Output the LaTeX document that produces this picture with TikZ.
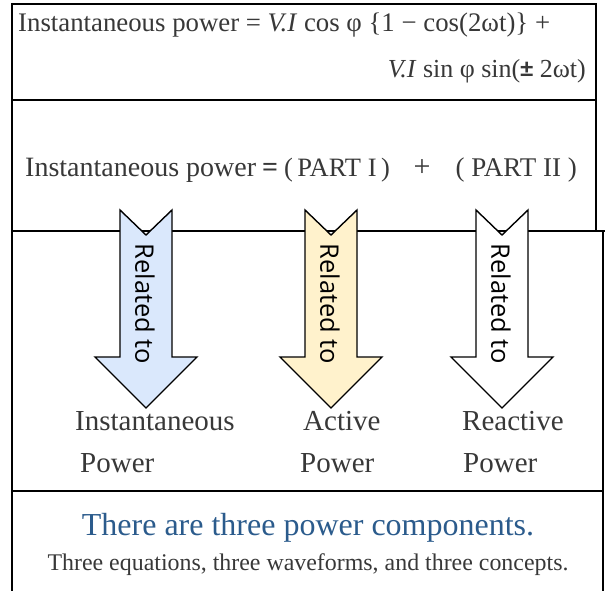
\documentclass[tikz,border=0pt]{standalone}
\usepackage{fontspec}
\setmainfont{Liberation Serif}
\newfontfamily\arrowfont{Open Sans}
\newfontfamily\symfont{Carlito}

\definecolor{inktext}{HTML}{383838}
\definecolor{titleblue}{HTML}{2B5B8C}
\definecolor{fillblue}{HTML}{DAE8FC}
\definecolor{fillyellow}{HTML}{FFF2CC}

% block arrow pointing down, with a notched tail; #1 = centre x, #2 = fill
\newcommand\powerarrow[2]{%
  \draw[arrowline,fill=#2] ({#1-26},210) -- (#1,235) -- ({#1+26},210)
    -- ({#1+26},357) -- ({#1+51},357) -- (#1,408) -- ({#1-51},357)
    -- ({#1-26},357) -- cycle;}

\begin{document}
\begin{tikzpicture}[x=1pt,y=-1pt,
  frame/.style={line width=2pt,black},
  arrowline/.style={line width=1.4pt,black,line join=miter},
  txt/.style={inner sep=0pt,text=inktext,font=\fontsize{26}{30}\selectfont},
  midtxt/.style={inner sep=0pt,text=inktext,font=\fontsize{28}{32}\selectfont},
  lbl/.style={inner sep=0pt,text=inktext,font=\fontsize{29}{33}\selectfont},
  reltxt/.style={inner sep=0pt,text=black,rotate=-90,font=\arrowfont\fontsize{25.5}{29}\selectfont},
]
\useasboundingbox (0,0) rectangle (605,591);

% frame and section rules
\draw[frame] (12,4) -- (596,4) -- (596,231);
\draw[frame] (12,3) -- (12,591);
\draw[frame] (12,100) -- (596,100);
\draw[frame] (12,231) -- (605,231);
\draw[frame] (603,231) -- (603,591);
\draw[frame] (12,491) -- (603,491);

% formula
\node[txt,anchor=base west,font=\fontsize{26.8}{30}\selectfont] (eq1) at (18,32)
  {Instantaneous power = \textit{V.I} cos φ \{1 − cos(2ωt)\} +};
\node[txt,anchor=base east] (eq2) at (586,78)
  {\textit{V.I} sin φ sin({\symfont\bfseries ±} 2ωt)};

% split into two parts
\node[midtxt,anchor=base west] (lhs) at (25,176) {Instantaneous power};
\node[midtxt,anchor=base west] (eqsign) at (262,176) {\bfseries =};
\node[midtxt,anchor=base west,font=\fontsize{26.5}{30}\selectfont] (part1) at (284,176) {(\,PART I\,)};
\node[midtxt,anchor=base] (plus) at (422,176) {\fontsize{30}{34}\selectfont +};
\node[midtxt,anchor=base east,font=\fontsize{27}{31}\selectfont] (part2) at (577,176) {( PART II )};

% arrows
\powerarrow{146}{fillblue}
\powerarrow{331}{fillyellow}
\powerarrow{502}{white}
\node[reltxt] (rel1) at (145,304) {Related to};
\node[reltxt] (rel2) at (330,304) {Related to};
\node[reltxt] (rel3) at (501,304) {Related to};

% component names
\node[lbl,anchor=base west] (inst1) at (75,430) {Instantaneous};
\node[lbl,anchor=base west] (inst2) at (80,472) {Power};
\node[lbl,anchor=base west] (act1) at (303,430) {Active};
\node[lbl,anchor=base west] (act2) at (300,472) {Power};
\node[lbl,anchor=base west] (rea1) at (462,430) {Reactive};
\node[lbl,anchor=base west] (rea2) at (463,472) {Power};

% summary
\node[inner sep=0pt,anchor=base,text=titleblue,font=\fontsize{32}{36}\selectfont] (title) at (308,535)
  {There are three power components.};
\node[inner sep=0pt,anchor=base,text=inktext,font=\fontsize{23.9}{27}\selectfont] (sub) at (308,570)
  {Three equations, three waveforms, and three concepts.};
\end{tikzpicture}
\end{document}
